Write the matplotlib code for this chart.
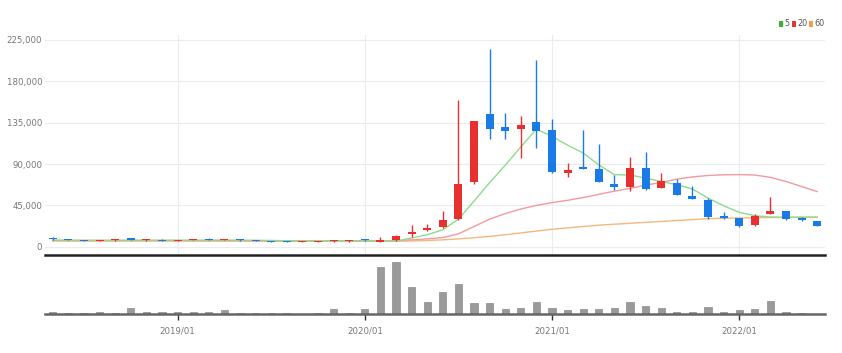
import numpy as np
import pandas as pd
import matplotlib
matplotlib.use("Agg")
import matplotlib.pyplot as plt
from matplotlib import font_manager
from matplotlib.patches import Rectangle

# monthly candles 2018/05 .. 2022/06
months = [d.strftime("%Y/%m") for d in pd.date_range("2018-05-01", "2022-06-01", freq="MS")]

opens = [9500, 8000, 7200, 6500, 7000, 9500, 6800, 7500, 6600, 7200,
         8500, 7200, 7800, 7000, 6300, 6200, 5200, 5500, 5700, 5900,
         8300, 5500, 6900, 13400, 18500, 21000, 30000, 70000, 144000, 130700,
         128000, 135800, 126700, 80300, 86800, 84600, 68600, 65000, 85700, 64200,
         69400, 55500, 51200, 33000, 31200, 23600, 36000, 38500, 31200, 27600]
closes = [8000, 7200, 6500, 7000, 7800, 7800, 7500, 6600, 7200, 7600,
          7400, 8000, 6800, 6200, 5500, 5200, 6000, 6200, 6500, 6600,
          6800, 7000, 12000, 15600, 20700, 29400, 68600, 137000, 128000, 126300,
          132000, 126000, 81700, 83800, 84600, 70800, 65000, 86000, 62800, 71000,
          56600, 52000, 32300, 31200, 22900, 33800, 38500, 30100, 28700, 22900]
highs = [10500, 8500, 7600, 7400, 8200, 10000, 7900, 7900, 7600, 8000,
         9000, 8400, 8200, 7400, 6700, 6600, 6400, 6600, 6900, 7000,
         8800, 10500, 12500, 24000, 25000, 38400, 160000, 137000, 215000, 146000,
         142000, 203600, 139000, 91000, 126700, 112000, 78400, 97700, 102700, 80300,
         73700, 65700, 53000, 37400, 31500, 35600, 54000, 39000, 32000, 28000]
lows = [7500, 6800, 6100, 6200, 6700, 7400, 6400, 6200, 6300, 6900,
        7000, 6900, 6400, 5800, 5100, 4800, 4900, 5200, 5400, 5600,
        6400, 4800, 6500, 10500, 16700, 20500, 29000, 68600, 117600, 117600,
        96600, 107500, 80600, 76000, 84600, 70000, 61300, 60700, 62000, 64000,
        56000, 51500, 30000, 30500, 22000, 23000, 36000, 29500, 28500, 22500]
volume = [260, 100, 100, 200, 100, 600, 200, 200, 260, 260,
          260, 430, 100, 100, 100, 100, 60, 100, 500, 100,
          500, 4700, 5260, 2760, 1200, 2260, 3000, 1100, 1100, 500,
          600, 1200, 600, 430, 500, 500, 600, 1200, 860, 600,
          260, 200, 760, 260, 400, 500, 1360, 260, 130, 40]

ma5 = [7200, 7100, 7000, 7000, 7000, 7100, 7100, 7100, 7100, 7100,
       7200, 7200, 7100, 7000, 6800, 6500, 6300, 6200, 6200, 6300,
       6700, 6500, 6000, 9500, 13000, 18500, 30000, 49600, 69700, 88600,
       108600, 128000, 120000, 110500, 102000, 89000, 78400, 78000, 74800, 71000,
       67500, 62800, 53000, 44600, 37400, 33800, 32300, 32000, 32000, 32000]
ma20 = [6800, 6800, 6800, 6800, 6800, 6800, 6800, 6700, 6700, 6700,
        6700, 6700, 6600, 6600, 6500, 6500, 6400, 6400, 6400, 6400,
        6400, 6400, 6700, 7500, 8500, 10000, 14000, 22000, 30000, 36000,
        41000, 45000, 48000, 50500, 53500, 57000, 60500, 63500, 67000, 70000,
        73500, 76000, 77500, 78300, 78500, 78000, 75500, 71000, 65500, 60000]
ma60 = [6200, 6200, 6200, 6200, 6200, 6200, 6200, 6200, 6200, 6200,
        6100, 6100, 6100, 6100, 6000, 6000, 6000, 6000, 6000, 6000,
        6000, 6000, 6000, 6300, 6800, 7500, 8500, 9800, 11200, 13000,
        15000, 17000, 19000, 20500, 22000, 23500, 24500, 25500, 26500, 27500,
        28500, 29500, 30500, 31000, 31300, 31500, 31800, 32000, 32200, 32300]

price_ticks = [0, 45000, 90000, 135000, 180000, 225000]

UP = "#e8312f"
DOWN = "#1a7be6"

names = {f.name for f in font_manager.fontManager.ttflist}
lbl_font = "Liberation Sans Narrow" if "Liberation Sans Narrow" in names else "DejaVu Sans"
lbl = dict(fontfamily=lbl_font, fontstretch="condensed", fontsize=6.8, color="#777777")

x = np.arange(len(months))
o = np.array(opens); c = np.array(closes)
colors = [UP if cc >= oo else DOWN for oo, cc in zip(o, c)]

fig = plt.figure(figsize=(8.42, 3.53), dpi=100)
W, H = 842, 353
ax = fig.add_axes([45 / W, 1 - 255 / H, 780 / W, 220 / H])
axv = fig.add_axes([45 / W, 1 - 314.3 / H, 780 / W, 56.3 / H])

# grid
for t in price_ticks:
    ax.axhline(t, color="#ececec", lw=0.8, zorder=0)
year_idx = [i for i, m in enumerate(months) if m.endswith("/01")]
for i in year_idx:
    ax.axvline(i, color="#ececec", lw=0.8, zorder=0)

# moving averages
ax.plot(x, ma60, color="#f6b77f", lw=1.0, zorder=2)
ax.plot(x, ma20, color="#f39a9e", lw=1.0, zorder=2)
ax.plot(x, ma5, color="#8edb8e", lw=1.0, zorder=2)

# candles
body_w = 0.52
for i in x:
    ax.vlines(i, lows[i], highs[i], color=colors[i], lw=1.0, zorder=3)
    lo, hi = min(o[i], c[i]), max(o[i], c[i])
    ax.bar(i, max(hi - lo, 1200), bottom=lo, width=body_w, color=colors[i], zorder=4)

ax.set_xlim(-0.5, 49.5)
ax.set_ylim(-9000, 230400)
ax.set_yticks(price_ticks)
ax.set_yticklabels([f"{t:,}" for t in price_ticks], **lbl)
ax.tick_params(axis="y", length=0, pad=2)
ax.set_xticks([])
for s in ["top", "right", "left"]:
    ax.spines[s].set_visible(False)
ax.spines["bottom"].set_color("#222222")
ax.spines["bottom"].set_linewidth(1.8)

# volume
axv.bar(x, volume, width=0.47, color="#9a9a9a", edgecolor="#8a8a8a", lw=0.5)
axv.set_xlim(-0.5, 49.5)
axv.set_ylim(0, 5630)
axv.set_yticks([])
axv.set_xticks(year_idx)
axv.set_xticklabels([months[i] for i in year_idx], **lbl)
axv.tick_params(axis="x", length=4, width=1, color="#333333", pad=5)
for s in ["top", "right", "left"]:
    axv.spines[s].set_visible(False)
axv.spines["bottom"].set_color("#666666")
axv.spines["bottom"].set_linewidth(1.8)

# legend
leg = [("5", "#2eb82e", 779), ("20", "#e63535", 792), ("60", "#f0a040", 809)]
for lab, col, px in leg:
    fig.add_artist(Rectangle((px / W, 1 - 26.5 / H), 4 / W, 5 / H,
                             transform=fig.transFigure, color=col, lw=0))
    fig.text((px + 5) / W, 1 - 24 / H, lab, va="center", ha="left",
             **{**lbl, "fontsize": 6.5, "color": "#555555"})

fig.savefig("out.png", dpi=100)
